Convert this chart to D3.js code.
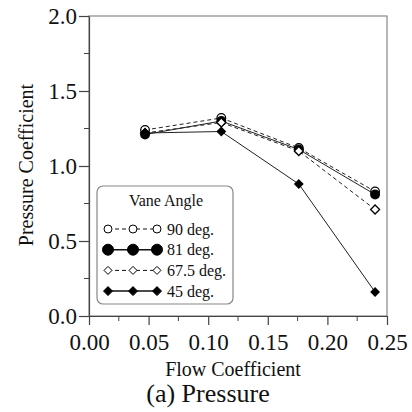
<!doctype html>
<html>
<head>
<meta charset='utf-8'>
<script src='https://cdn.jsdelivr.net/npm/d3@7'></script>
<style>
  html,body{margin:0;background:white;}
  svg{display:block;}
  svg text{font-family:'Liberation Serif','Times New Roman','DejaVu Serif',serif;}
</style>
</head>
<body>
<svg id='chart' width='412' height='412'></svg>
<script>
  // data
  var flow   = [0.047, 0.111, 0.176, 0.240]
  var cp90   = [1.24, 1.32, 1.12, 0.83]
  var cp81   = [1.21, 1.30, 1.11, 0.81]
  var cp675  = [1.22, 1.29, 1.10, 0.71]
  var cp45   = [1.22, 1.23, 0.88, 0.16]
  var names  = ['90 deg.', '81 deg.', '67.5 deg.', '45 deg.']
  var xTicks = [0, 0.05, 0.10, 0.15, 0.20, 0.25]
  var yTicks = [0, 0.5, 1.0, 1.5, 2.0]

  var series = [
    {name:names[0], vals:cp90,  shape:'circle',  fill:'white', dash:'4,3'},
    {name:names[1], vals:cp81,  shape:'circle',  fill:'black', dash:null},
    {name:names[2], vals:cp675, shape:'diamond', fill:'white', dash:'4,3'},
    {name:names[3], vals:cp45,  shape:'diamond', fill:'black', dash:null}
  ]

  var L = 89, R = 387, T = 16, B = 316
  var svg = d3.select('#chart')

  var x = d3.scaleLinear().domain([0, 0.25]).range([L, R])
  var y = d3.scaleLinear().domain([0, 2]).range([B, T])

  // frame
  svg.append('rect')
     .attr('x', L).attr('y', T).attr('width', R - L).attr('height', B - T)
     .attr('fill', 'none').attr('stroke', '#888').attr('stroke-width', 1.2)

  // minor ticks
  var g = svg.append('g')
  d3.range(0.025, 0.25, 0.05).forEach(function(v){
    g.append('line').attr('x1', x(v)).attr('x2', x(v)).attr('y1', B).attr('y2', B + 5)
     .attr('stroke', '#444')
  })
  d3.range(0.25, 2, 0.5).forEach(function(v){
    g.append('line').attr('y1', y(v)).attr('y2', y(v)).attr('x1', L).attr('x2', L - 5)
     .attr('stroke', '#444')
  })

  var xAxis = svg.append('g').attr('transform', 'translate(0,' + B + ')')
     .call(d3.axisBottom(x).tickValues(xTicks).tickFormat(d3.format('.2f')).tickSize(9).tickSizeOuter(0))
  var yAxis = svg.append('g').attr('transform', 'translate(' + L + ',0)')
     .call(d3.axisLeft(y).tickValues(yTicks).tickFormat(d3.format('.1f')).tickSize(10).tickSizeOuter(0))

  ;[xAxis, yAxis].forEach(function(a){
    a.attr('font-family', null).attr('font-size', null)
    a.select('.domain').attr('stroke', '#444').attr('stroke-width', 1.2)
    a.selectAll('.tick line').attr('stroke', '#444').attr('stroke-width', 1.2)
    a.selectAll('text').attr('font-size', 23).attr('fill', '#111')
  })
  xAxis.selectAll('text').attr('dy', null).attr('y', 34)
  yAxis.selectAll('text').attr('x', -12).attr('dy', '0.34em')

  // axis titles
  svg.append('text').attr('x', 233).attr('y', 376).attr('text-anchor', 'middle')
     .attr('font-size', 20).attr('fill', '#111').text('Flow Coefficient')
  svg.append('text').attr('transform', 'translate(33,165) rotate(-90)').attr('text-anchor', 'middle')
     .attr('font-size', 20).attr('fill', '#111').text('Pressure Coefficient')
  svg.append('text').attr('x', 208).attr('y', 402).attr('text-anchor', 'middle')
     .attr('font-size', 26).attr('fill', '#111').text('(a) Pressure')

  function symbolPath(shape, r){
    if(shape === 'circle') return d3.symbol().type(d3.symbolCircle).size(Math.PI * r * r)()
    return 'M0,' + (-r) + 'L' + r + ',0L0,' + r + 'L' + (-r) + ',0Z'
  }

  var line = d3.line().x(function(d, i){ return x(flow[i]) }).y(function(d){ return y(d) })

  var plot = svg.append('g')
  series.forEach(function(s){
    plot.append('path').attr('d', line(s.vals)).attr('fill', 'none')
        .attr('stroke', '#222').attr('stroke-width', 1)
        .attr('stroke-dasharray', s.dash)
  })
  series.forEach(function(s){
    var r = s.shape === 'circle' ? 4.3 : (s.fill === 'black' ? 4 : 4.5)
    plot.selectAll(null).data(s.vals).enter().append('path')
        .attr('transform', function(d, i){ return 'translate(' + x(flow[i]) + ',' + y(d) + ')' })
        .attr('d', symbolPath(s.shape, r))
        .attr('fill', s.fill).attr('stroke', 'black').attr('stroke-width', 1.3)
  })

  // legend
  var lg = svg.append('g')
  lg.append('rect').attr('x', 97).attr('y', 186).attr('width', 136).attr('height', 118)
    .attr('rx', 6).attr('fill', 'white').attr('stroke', '#888').attr('stroke-width', 1.2)
  lg.append('text').attr('x', 166).attr('y', 206).attr('text-anchor', 'middle')
    .attr('font-size', 16).attr('fill', '#111').text('Vane Angle')
  var symX = [108, 133, 157]
  series.forEach(function(s, k){
    var cy = 229 + k * 20.7
    lg.append('line').attr('x1', symX[0]).attr('x2', symX[2]).attr('y1', cy).attr('y2', cy)
      .attr('stroke', '#111').attr('stroke-width', s.dash ? 1 : 1.5).attr('stroke-dasharray', s.dash)
    var r = s.shape === 'circle' ? (s.fill === 'black' ? 5.5 : 4) : (s.fill === 'black' ? 4.5 : 4)
    symX.forEach(function(sx){
      lg.append('path').attr('transform', 'translate(' + sx + ',' + cy + ')')
        .attr('d', symbolPath(s.shape, r))
        .attr('fill', s.fill).attr('stroke', 'black').attr('stroke-width', 1)
    })
    lg.append('text').attr('x', 167).attr('y', cy + 5.5).attr('font-size', 16)
      .attr('fill', '#111').text(s.name)
  })
</script>
</body>
</html>
